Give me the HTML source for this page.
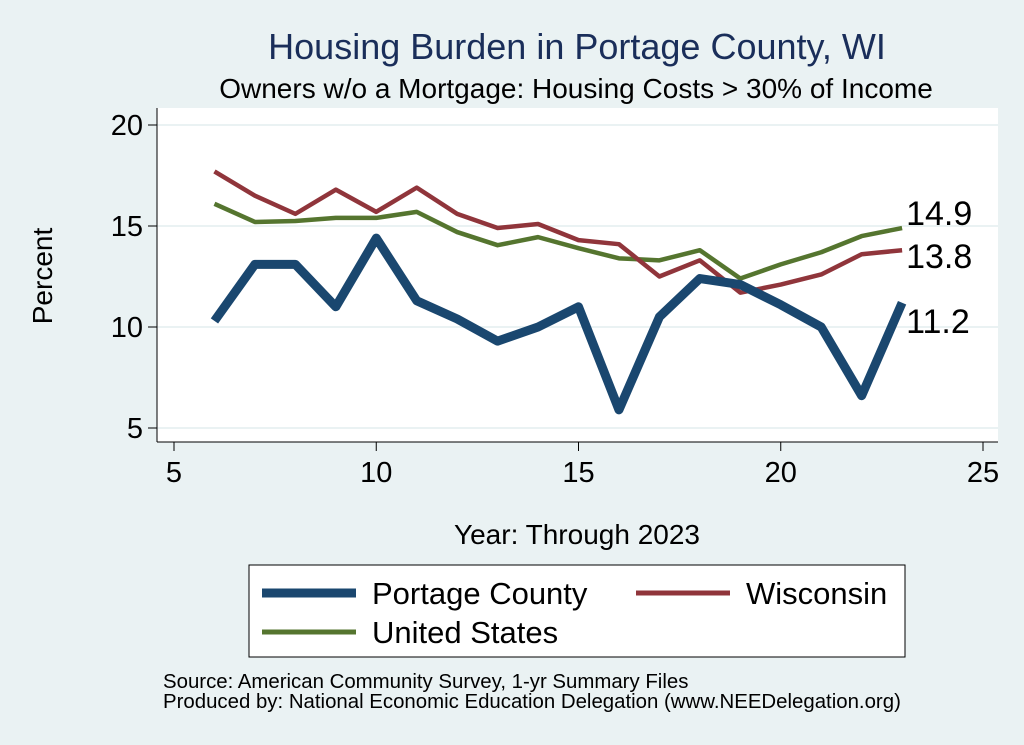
<!DOCTYPE html>
<html><head><meta charset="utf-8"><style>
html,body{margin:0;padding:0;background:#eaf2f3;}
svg{display:block;font-family:"Liberation Sans",Arial,sans-serif;}
</style></head><body>
<svg id="chart" width="1024" height="745" viewBox="0 0 1024 745">
<rect x="0" y="0" width="1024" height="745" fill="#eaf2f3"/>
<rect x="157" y="108" width="841" height="334" fill="#ffffff"/>
<text x="577" y="59" text-anchor="middle" font-size="36" fill="#1a2e5a">Housing Burden in Portage County, WI</text>
<text x="576" y="98" text-anchor="middle" font-size="28" fill="#000">Owners w/o a Mortgage: Housing Costs &gt; 30% of Income</text>
<g id="grid"></g>
<g id="axes"></g>
<g id="series"></g>
<text x="52" y="276" text-anchor="middle" font-size="28" transform="rotate(-90 52 276)">Percent</text>
<text x="577" y="544" text-anchor="middle" font-size="28">Year: Through 2023</text>
<g>
<rect x="249" y="565" width="656" height="92" fill="#fff" stroke="#000" stroke-width="1"/>
<line x1="262" y1="593" x2="356" y2="593" stroke="#1a476f" stroke-width="9"/>
<text x="372" y="604" font-size="31">Portage County</text>
<line x1="636" y1="593" x2="730" y2="593" stroke="#90353b" stroke-width="5"/>
<text x="746" y="604" font-size="31">Wisconsin</text>
<line x1="262" y1="632" x2="356" y2="632" stroke="#55752f" stroke-width="5"/>
<text x="372" y="643" font-size="31">United States</text>
</g>
<text x="163" y="688" font-size="20.4">Source: American Community Survey, 1-yr Summary Files</text>
<text x="163" y="708" font-size="20.4">Produced by: National Economic Education Delegation (www.NEEDelegation.org)</text>
</svg>
<script>
const years=[6,7,8,9,10,11,12,13,14,15,16,17,18,19,20,21,22,23];
const portage=[10.3,13.1,13.1,11.0,14.4,11.3,10.4,9.3,10.0,11.0,5.9,10.5,12.4,12.1,11.1,10.0,6.6,11.2];
const wisconsin=[17.7,16.5,15.6,16.8,15.7,16.9,15.6,14.9,15.1,14.3,14.1,12.5,13.3,11.7,12.1,12.6,13.6,13.8];
const unitedStates=[16.1,15.2,15.25,15.4,15.4,15.7,14.7,14.05,14.45,13.9,13.4,13.3,13.8,12.4,13.1,13.7,14.5,14.9];
const xTicks=[5,10,15,20,25];
const yTicks=[5,10,15,20];
const NS="http://www.w3.org/2000/svg";
const xs=v=>174+(v-5)*(983-174)/20;
const ys=v=>428-(v-5)*(428-125)/15;
function mk(tag,attrs,parent){const e=document.createElementNS(NS,tag);for(const k in attrs)e.setAttribute(k,attrs[k]);parent.appendChild(e);return e;}
const grid=document.getElementById('grid'),axes=document.getElementById('axes'),ser=document.getElementById('series');
yTicks.forEach(t=>{
 const g=mk('line',{x1:157,x2:998,y1:ys(t),y2:ys(t),stroke:'#eaf2f3','stroke-width':2},grid);
 
 
 const tk=mk('line',{x1:148,x2:157,y1:ys(t),y2:ys(t),stroke:'#000'},axes);
 
 
 const tx=mk('text',{x:143,y:ys(t)+10,'text-anchor':'end','font-size':29},axes);tx.textContent=t;
 
 
});
const ya=mk('line',{x1:157,x2:157,y1:108,y2:442,stroke:'#000'},axes);


const xa=mk('line',{x1:157,x2:998,y1:442,y2:442,stroke:'#000'},axes);


xTicks.forEach(t=>{
 const tk=mk('line',{x1:xs(t),x2:xs(t),y1:442,y2:451,stroke:'#000'},axes);
 
 
 const tx=mk('text',{x:xs(t),y:482,'text-anchor':'middle','font-size':29},axes);tx.textContent=t;
 
 
});
function line(vals,color,w,name){
 const p=mk('polyline',{points:vals.map((v,i)=>xs(years[i])+','+ys(v)).join(' '),fill:'none',stroke:color,'stroke-width':w,'stroke-linejoin':'round'},ser);
 
 
}
line(unitedStates,'#55752f',4.5,'us-line');
line(wisconsin,'#90353b',4.5,'wisconsin-line');
line(portage,'#1a476f',9,'portage-line');
function lab(vals,dy,name){
 const last=years.length-1;
 const t=mk('text',{x:xs(years[last])+4,y:ys(vals[last])+dy,'font-size':34},ser);
 t.textContent=vals[last].toFixed(1);
 
 
}
lab(unitedStates,-3,'us-end-label');
lab(wisconsin,18,'wisconsin-end-label');
lab(portage,30,'portage-end-label');
</script>
</body></html>
